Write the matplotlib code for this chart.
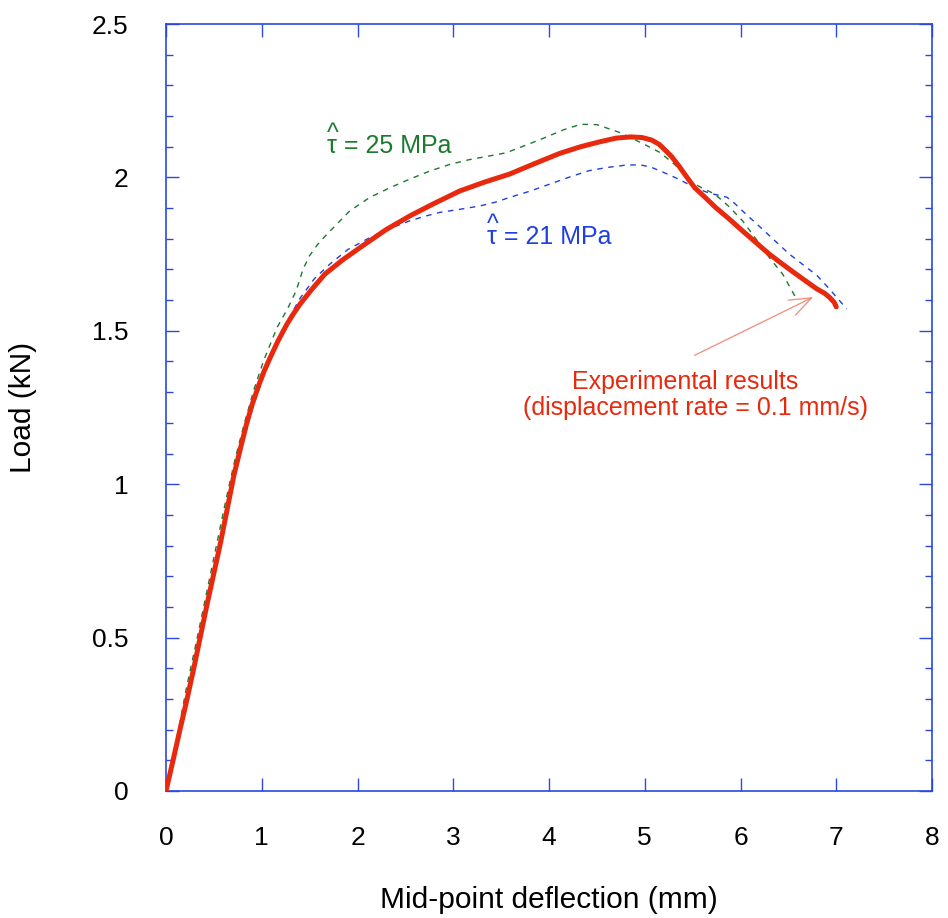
import matplotlib
matplotlib.use("Agg")
import matplotlib.pyplot as plt
from matplotlib.ticker import MultipleLocator, NullLocator

plt.rcParams['font.family'] = ['Liberation Sans', 'DejaVu Sans']

# Experimental results (red, thick)
exp_x = [0, 0.07, 0.146, 0.22, 0.29, 0.36, 0.43, 0.50, 0.57, 0.64, 0.71, 0.78, 0.84, 0.90,
         0.96, 1.02, 1.09, 1.17, 1.26, 1.33, 1.40, 1.52, 1.66, 1.84, 2.03, 2.30, 2.55, 2.80,
         3.07, 3.33, 3.59, 3.85, 4.11, 4.33, 4.53, 4.70, 4.85, 4.97, 5.07, 5.15, 5.21, 5.28,
         5.35, 5.43, 5.52, 5.63, 5.74, 5.88, 6.02, 6.16, 6.30, 6.44, 6.58, 6.70, 6.80, 6.88,
         6.93, 6.98, 7.00]
exp_y = [0, 0.095, 0.20, 0.30, 0.40, 0.505, 0.61, 0.71, 0.81, 0.92, 1.03, 1.12, 1.195, 1.26,
         1.315, 1.365, 1.414, 1.467, 1.52, 1.555, 1.587, 1.634, 1.685, 1.73, 1.772, 1.83, 1.875,
         1.915, 1.956, 1.985, 2.011, 2.045, 2.078, 2.100, 2.116, 2.128, 2.132, 2.130, 2.122,
         2.108, 2.090, 2.068, 2.040, 2.005, 1.967, 1.935, 1.902, 1.865, 1.826, 1.788, 1.750,
         1.717, 1.685, 1.658, 1.636, 1.622, 1.609, 1.592, 1.578]

# Model, tau = 25 MPa (green dashed)
t25_x = [0, 0.10, 0.216, 0.32, 0.42, 0.52, 0.62, 0.72, 0.82, 0.92, 1.02, 1.16, 1.27, 1.36,
         1.43, 1.50, 1.58, 1.66, 1.76, 1.92, 2.13, 2.35, 2.55, 2.75, 2.97, 3.17, 3.38, 3.55,
         3.70, 3.84, 3.96, 4.15, 4.33, 4.50, 4.64, 4.75, 4.85, 5.00, 5.16, 5.32, 5.47, 5.60,
         5.73, 5.88, 6.02, 6.16, 6.30, 6.44, 6.57]
t25_y = [0, 0.15, 0.34, 0.49, 0.64, 0.79, 0.94, 1.08, 1.20, 1.31, 1.403, 1.511, 1.572, 1.631,
         1.70, 1.745, 1.78, 1.808, 1.84, 1.891, 1.935, 1.968, 1.995, 2.02, 2.043, 2.058, 2.070,
         2.080, 2.098, 2.115, 2.130, 2.155, 2.173, 2.172, 2.157, 2.145, 2.130, 2.107, 2.081,
         2.040, 1.989, 1.965, 1.946, 1.905, 1.859, 1.800, 1.739, 1.685, 1.612]

# Model, tau = 21 MPa (blue dashed)
t21_x = [0, 0.10, 0.20, 0.30, 0.40, 0.50, 0.60, 0.70, 0.80, 0.90, 1.00, 1.10, 1.20, 1.30,
         1.40, 1.55, 1.71, 1.90, 2.13, 2.35, 2.55, 2.70, 2.86, 3.05, 3.28, 3.45, 3.59, 3.80,
         4.06, 4.25, 4.42, 4.60, 4.80, 4.95, 5.06, 5.17, 5.35, 5.52, 5.68, 5.80, 5.86, 5.94,
         6.02, 6.23, 6.51, 6.80, 6.93, 7.11]
t21_y = [0, 0.14, 0.28, 0.42, 0.565, 0.71, 0.85, 1.00, 1.13, 1.245, 1.335, 1.415, 1.485, 1.55,
         1.606, 1.67, 1.717, 1.765, 1.804, 1.835, 1.859, 1.873, 1.886, 1.895, 1.907, 1.920,
         1.935, 1.955, 1.984, 2.005, 2.022, 2.032, 2.040, 2.041, 2.034, 2.020, 1.995, 1.967,
         1.948, 1.940, 1.935, 1.915, 1.891, 1.831, 1.750, 1.680, 1.636, 1.571]

x_ticks = [0, 1, 2, 3, 4, 5, 6, 7, 8]
y_ticks = [0, 0.5, 1, 1.5, 2, 2.5]
y_tick_labels = ['0', '0.5', '1', '1.5', '2', '2.5']

FRAME = '#2a48e0'
RED = '#e8290e'
GREEN = '#1b7a2c'
BLUE = '#1f3fe0'

fig = plt.figure(figsize=(9.48, 9.18), dpi=100)
ax = fig.add_axes([166/948, 127/918, 766/948, 767/918])

ax.plot(t25_x, t25_y, color=GREEN, lw=1.0, dashes=(4, 4), zorder=2)
ax.plot(t21_x, t21_y, color=BLUE, lw=1.0, dashes=(4, 4), zorder=2)
ax.plot(exp_x, exp_y, color=RED, lw=3.6, solid_capstyle='round',
        solid_joinstyle='round', zorder=3)

ax.set_xlim(0, 8)
ax.set_ylim(0, 2.5)
ax.set_xticks(x_ticks)
ax.set_xticklabels([str(v) for v in x_ticks])
ax.set_yticks(y_ticks)
ax.set_yticklabels(y_tick_labels)
ax.xaxis.set_minor_locator(NullLocator())
ax.yaxis.set_minor_locator(MultipleLocator(0.1))

for s in ax.spines.values():
    s.set_color(FRAME)
    s.set_linewidth(1.2)

ax.tick_params(axis='both', which='major', direction='in', length=9.5, width=1,
               color=FRAME, top=True, right=True, labelsize=19, labelcolor='black')
ax.tick_params(axis='y', which='minor', direction='in', length=5, width=1,
               color=FRAME, left=True, right=True)
ax.tick_params(axis='x', which='major', pad=25)
ax.tick_params(axis='y', which='major', pad=27)

ax.set_xlabel('Mid-point deflection (mm)', fontsize=21.5, va='center')
ax.set_ylabel('Load (kN)', fontsize=21.5, va='center')
ax.xaxis.set_label_coords(0.5, (791 - 900) / 767)
ax.yaxis.set_label_coords((23 - 166) / 766, 0.5)

# annotations (hat drawn as a caret line above the tau)
ax.text(1.68, 2.064, '^\n\u03c4 = 25 MPa', color=GREEN, fontsize=18, ha='left',
        va='bottom', linespacing=0.33, multialignment='left')
ax.text(3.35, 1.768, '^\n\u03c4 = 21 MPa', color=BLUE, fontsize=18, ha='left',
        va='bottom', linespacing=0.33, multialignment='left')

ax.text(5.42, 1.333, 'Experimental results', color=RED, fontsize=18, ha='center', va='center')
ax.text(5.535, 1.250, '(displacement rate = 0.1 mm/s)', color=RED, fontsize=18,
        ha='center', va='center')
ax.annotate('', xy=(6.76, 1.61), xytext=(5.52, 1.42),
            arrowprops=dict(arrowstyle='->,head_length=0.8,head_width=0.3',
                            color='#f28a78', lw=0.9, mutation_scale=20,
                            shrinkA=0, shrinkB=0))

fig.savefig('out.png', dpi=100)
